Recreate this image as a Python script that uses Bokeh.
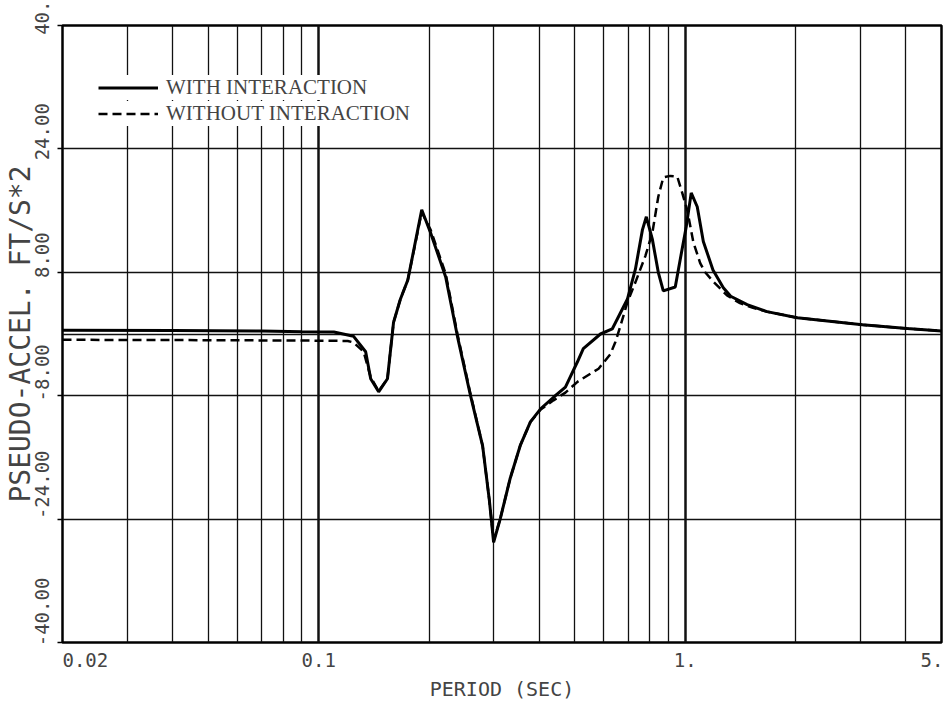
from bokeh.plotting import figure
from bokeh.models import FixedTicker, CustomJSTickFormatter, Legend, LegendItem
from bokeh.embed import file_html
from bokeh.resources import INLINE

# ---- data ----
period_with = [0.02, 0.04, 0.07, 0.09, 0.11, 0.1245, 0.1343, 0.1386, 0.1457, 0.154,
               0.160, 0.167, 0.175, 0.191, 0.202, 0.222, 0.239, 0.2595, 0.280, 0.292,
               0.300, 0.313, 0.333, 0.355, 0.378, 0.403, 0.437, 0.471, 0.508, 0.527,
               0.587, 0.632, 0.695, 0.731, 0.764, 0.783, 0.813, 0.844, 0.871, 0.939,
               0.969, 1.006, 1.038, 1.078, 1.12, 1.19, 1.27, 1.33, 1.475, 1.67,
               2.02, 3.04, 4.03, 5.0]
accel_with = [0.5, 0.45, 0.4, 0.3, 0.25, -0.3, -2.3, -5.8, -7.5, -5.8,
              1.5, 4.5, 7.0, 16.1, 13.1, 7.4, -0.3, -8.0, -14.5, -21.5,
              -27.0, -23.9, -18.7, -14.4, -11.4, -9.7, -8.2, -6.9, -3.6, -1.9,
              0.0, 0.65, 4.5, 8.4, 13.5, 15.2, 12.3, 8.0, 5.6, 6.1,
              9.7, 13.9, 18.3, 16.5, 12.0, 8.3, 6.0, 4.9, 3.8, 2.9,
              2.1, 1.2, 0.7, 0.4]

period_without = [0.02, 0.05, 0.09, 0.12, 0.1245, 0.1326, 0.1386, 0.1457, 0.154, 0.160,
                  0.167, 0.175, 0.191, 0.202, 0.222, 0.239, 0.2595, 0.280, 0.292, 0.300,
                  0.313, 0.333, 0.355, 0.378, 0.403, 0.437, 0.471, 0.508, 0.580, 0.625,
                  0.645, 0.665, 0.695, 0.731, 0.778, 0.813, 0.844, 0.871, 0.910, 0.951,
                  0.981, 1.012, 1.052, 1.098, 1.133, 1.192, 1.30, 1.41, 1.53, 1.67,
                  2.02, 3.04, 4.03, 5.0]
accel_without = [-0.75, -0.8, -0.85, -0.9, -1.1, -2.3, -5.6, -7.4, -5.8, 1.5,
                 4.5, 7.0, 15.8, 13.5, 7.8, 0.0, -7.8, -14.5, -21.5, -26.8,
                 -23.9, -18.7, -14.4, -11.4, -9.8, -8.6, -7.6, -6.2, -4.5, -2.6,
                 -1.0, 1.0, 4.1, 6.7, 10.1, 13.1, 17.8, 20.3, 20.5, 20.4,
                 18.3, 16.1, 11.9, 9.2, 8.0, 6.8, 5.0, 4.0, 3.4, 2.9,
                 2.1, 1.2, 0.7, 0.4]

NB = "\u00a0"  # non-breaking space used to offset label text like the plotter did

x_tick_values = [0.02, 0.1, 1.0, 5.0]
x_tick_labels = [NB * 4 + "0.02", "0.1", "1.", "5."]
x_minor_grid = [0.03, 0.04, 0.05, 0.06, 0.07, 0.08, 0.09,
                0.2, 0.3, 0.4, 0.5, 0.6, 0.7, 0.8, 0.9,
                2.0, 3.0, 4.0]
y_tick_values = [-40, -24, -8, 8, 24, 40]
y_tick_labels = [NB * 5 + "-40.00", NB * 6 + "-24.00", NB * 4 + "-8.00",
                 NB * 3 + "8.00", NB * 3 + "24.00", NB * 2 + "40."]
y_grid_values = [-24, -8, 0, 8, 24]

series_names = ["WITH INTERACTION", "WITHOUT INTERACTION"]

MONO = "DejaVu Sans Mono"

p = figure(width=943, height=703, x_axis_type="log",
           x_range=(0.02, 5.0), y_range=(-40, 40),
           output_backend="svg", toolbar_location=None,
           min_border_left=61, min_border_right=2,
           min_border_top=25, min_border_bottom=59)

p.background_fill_color = "white"
p.border_fill_color = "white"
p.outline_line_color = "black"
p.outline_line_width = 2.5

# x axis
xt = FixedTicker(ticks=x_tick_values, minor_ticks=x_minor_grid)
p.xaxis.ticker = xt
p.xaxis.formatter = CustomJSTickFormatter(
    args=dict(vals=x_tick_values, labs=x_tick_labels),
    code="""
for (let i = 0; i < vals.length; i++) {
  if (Math.abs(Math.log(tick) - Math.log(vals[i])) < 1e-6) return labs[i];
}
return '';
""")
p.xaxis.axis_label = "PERIOD (SEC)"
p.xaxis.axis_label_text_font = MONO
p.xaxis.axis_label_text_font_style = "normal"
p.xaxis.axis_label_text_font_size = "20px"
p.xaxis.axis_label_standoff = 3
p.xaxis.major_label_text_font = MONO
p.xaxis.major_label_text_font_size = "19px"
p.xaxis.major_label_standoff = 0
p.xaxis.major_tick_line_color = None
p.xaxis.minor_tick_line_color = None
p.xaxis.axis_line_color = None

# y axis
yt = FixedTicker(ticks=y_tick_values)
p.yaxis.ticker = yt
p.yaxis.formatter = CustomJSTickFormatter(
    args=dict(vals=y_tick_values, labs=y_tick_labels),
    code="""
for (let i = 0; i < vals.length; i++) {
  if (Math.abs(tick - vals[i]) < 1e-6) return labs[i];
}
return '';
""")
p.yaxis.major_label_orientation = "vertical"
p.yaxis.axis_label = "PSEUDO-ACCEL. FT/S*2"
p.yaxis.axis_label_text_font = MONO
p.yaxis.axis_label_text_font_style = "normal"
p.yaxis.axis_label_text_font_size = "28px"
p.yaxis.axis_label_standoff = -8
p.yaxis.major_label_text_font = MONO
p.yaxis.major_label_text_font_size = "19px"
p.yaxis.major_label_standoff = 4
p.yaxis.major_tick_out = 5
p.yaxis.major_tick_in = 0
p.yaxis.major_tick_line_color = "black"
p.yaxis.major_tick_line_width = 1.5
p.yaxis.minor_tick_line_color = None
p.yaxis.axis_line_color = None

# grids
p.xgrid.ticker = xt
p.xgrid.grid_line_color = "#111111"
p.xgrid.grid_line_width = 2.5
p.xgrid.minor_grid_line_color = "#111111"
p.xgrid.minor_grid_line_width = 1.3
p.ygrid.ticker = FixedTicker(ticks=y_grid_values)
p.ygrid.grid_line_color = "#111111"
p.ygrid.grid_line_width = 1.5

r_with = p.line(period_with, accel_with, line_color="black", line_width=3)
r_without = p.line(period_without, accel_without, line_color="black",
                   line_width=2.5, line_dash="9 5")


def make_legend(label, renderer, loc, pad):
    lg = Legend(items=[LegendItem(label=label, renderers=[renderer])], location=loc)
    lg.border_line_color = None
    lg.background_fill_color = "white"
    lg.background_fill_alpha = 1.0
    lg.label_text_font = "Liberation Serif"
    lg.label_text_font_size = "21px"
    lg.glyph_width = 60
    lg.glyph_height = 19
    lg.label_height = 19
    lg.padding = pad
    lg.label_standoff = 8
    lg.margin = 0
    return lg


# second row first (its white box clears the grid), first row drawn on top
p.add_layout(make_legend(series_names[1], r_without, (36, 516), 12))
p.add_layout(make_legend(series_names[0], r_with, (36, 542), 3))

open("out.html", "w").write(file_html(p, INLINE))
